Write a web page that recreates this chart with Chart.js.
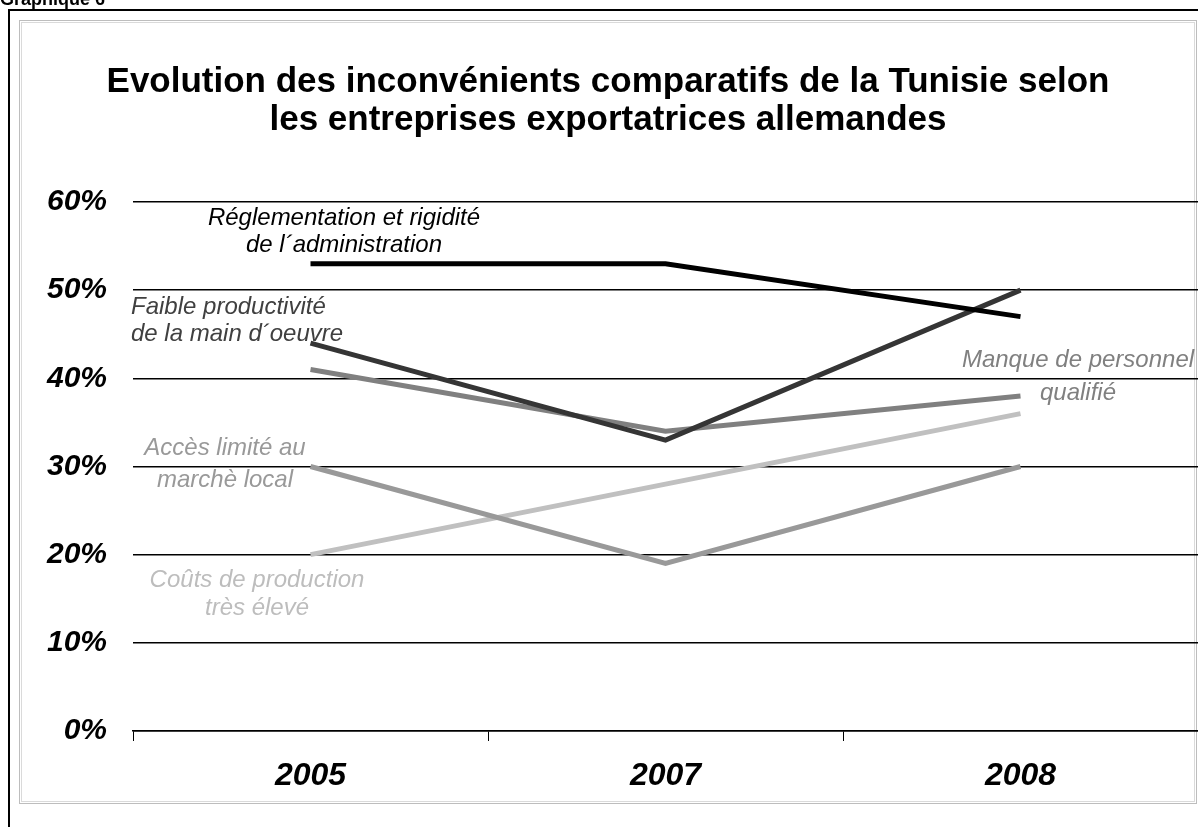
<!DOCTYPE html>
<html>
<head>
<meta charset="utf-8">
<script src="https://cdn.jsdelivr.net/npm/chart.js@4/dist/chart.umd.min.js"></script>
<style>
  html, body { margin: 0; padding: 0; background: #fff; }
  #wrap { position: relative; width: 1198px; height: 827px; }
</style>
</head>
<body>
<div id="wrap"><canvas id="c" width="1198" height="827"></canvas></div>
<script>
// ---- Data ----
const categories = ['2005', '2007', '2008'];
const reglementation = [53, 53, 47];
const faibleProductivite = [44, 33, 50];
const manquePersonnel = [41, 34, 38];
const accesMarche = [30, 19, 30];
const coutsProduction = [20, 28, 36];
const yTickValues = [0, 10, 20, 30, 40, 50, 60];

const seriesNames = [
  'Réglementation et rigidité de l´administration',
  'Faible productivité de la main d´oeuvre',
  'Manque de personnel qualifié',
  'Accès limité au marchè local',
  'Coûts de production très élevé'
];
const titleLines = [
  'Evolution des inconvénients comparatifs de la Tunisie selon',
  'les entreprises exportatrices allemandes'
];
const headerText = 'Graphique 6';

// ---- Styles / label placement ----
const FONT = '"Liberation Sans", Arial, Helvetica, sans-serif';
const seriesColors = ['#000000', '#353535', '#808080', '#999999', '#c0c0c0'];
const labelColors  = ['#000000', '#404040', '#808080', '#999999', '#bdbdbd'];
const seriesLabels = [
  { lines: ['Réglementation et rigidité', 'de l´administration'], x: 344, y: [218, 245], align: 'center' },
  { lines: ['Faible productivité', 'de la main d´oeuvre'], x: 131, y: [307, 334], align: 'left' },
  { lines: ['Manque de personnel', 'qualifié'], x: 1078, y: [360, 393], align: 'center' },
  { lines: ['Accès limité au', 'marchè local'], x: 225, y: [448, 480], align: 'center' },
  { lines: ['Coûts de production', 'très élevé'], x: 257, y: [580, 608], align: 'center' }
];

const decorPlugin = {
  id: 'decor',
  beforeDraw(chart) {
    const ctx = chart.ctx;
    ctx.save();
    ctx.fillStyle = '#fff';
    ctx.fillRect(0, 0, chart.width, chart.height);
    // outer black frame
    ctx.strokeStyle = '#000';
    ctx.lineWidth = 2;
    ctx.beginPath();
    ctx.moveTo(9, 830); ctx.lineTo(9, 10); ctx.lineTo(1200, 10);
    ctx.stroke();
    // inner grey double frame
    ctx.lineWidth = 1;
    ctx.strokeStyle = '#bdbdbd';
    ctx.strokeRect(19.5, 20.5, 1177, 783);
    ctx.strokeStyle = '#dadada';
    ctx.strokeRect(21.5, 22.5, 1173, 779);
    // header text (partially cut off at top)
    ctx.fillStyle = '#000';
    ctx.font = 'bold 18px ' + FONT;
    ctx.textAlign = 'left';
    ctx.textBaseline = 'alphabetic';
    ctx.fillText(headerText, 0, 5);
    // title
    ctx.font = 'bold 35px ' + FONT;
    ctx.textAlign = 'center';
    ctx.fillText(titleLines[0], 608, 92);
    ctx.fillText(titleLines[1], 608, 130);
    ctx.restore();
  },
  afterDraw(chart) {
    const ctx = chart.ctx;
    ctx.save();
    ctx.font = 'italic 24px ' + FONT;
    ctx.textBaseline = 'middle';
    seriesLabels.forEach((l, i) => {
      ctx.fillStyle = labelColors[i];
      ctx.textAlign = l.align;
      l.lines.forEach((t, j) => ctx.fillText(t, l.x, l.y[j]));
    });
    ctx.restore();
  }
};

const dataSeries = [reglementation, faibleProductivite, manquePersonnel, accesMarche, coutsProduction];

new Chart(document.getElementById('c'), {
  type: 'line',
  data: {
    labels: categories,
    datasets: dataSeries.map((d, i) => ({
      label: seriesNames[i],
      data: d,
      borderColor: seriesColors[i],
      backgroundColor: seriesColors[i],
      borderWidth: 5,
      pointRadius: 0,
      pointHoverRadius: 0,
      tension: 0,
      fill: false,
      borderJoinStyle: 'miter',
      borderCapStyle: 'butt'
    }))
  },
  options: {
    responsive: false,
    animation: false,
    events: [],
    layout: { padding: { top: 202, left: 0, right: 0, bottom: 0 } },
    plugins: {
      legend: { display: false },
      title: { display: false },
      tooltip: { enabled: false }
    },
    scales: {
      x: {
        offset: true,
        grid: { display: true, drawOnChartArea: false, drawTicks: true, tickLength: 10, color: '#000', lineWidth: 1, offset: true },
        border: { display: true, color: '#000', width: 1.5 },
        ticks: { color: '#000', font: { family: FONT, size: 32, weight: 'bold', style: 'italic' }, padding: 16, maxRotation: 0 },
        afterFit(scale) { scale.height = 96; }
      },
      y: {
        min: 0, max: 60,
        afterBuildTicks(scale) { scale.ticks = yTickValues.map(v => ({ value: v })); },
        grid: { color: '#000', lineWidth: 1.5, drawTicks: false },
        border: { display: false },
        ticks: {
          color: '#000',
          padding: 26,
          font: { family: FONT, size: 30, weight: 'bold', style: 'italic' },
          callback: v => v + '%'
        },
        afterFit(scale) { scale.width = 133; }
      }
    }
  },
  plugins: [decorPlugin]
});
</script>
</body>
</html>
